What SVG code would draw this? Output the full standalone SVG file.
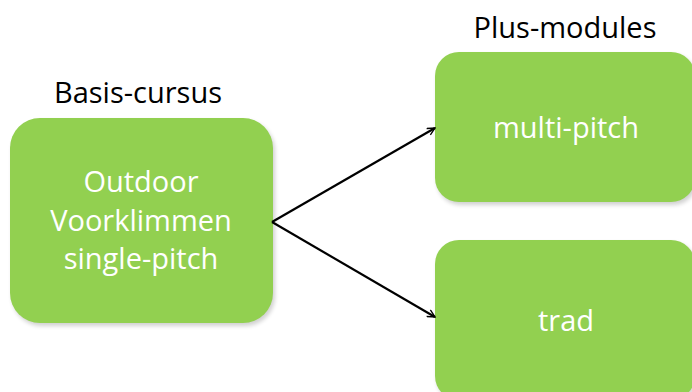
<svg xmlns="http://www.w3.org/2000/svg" width="692" height="392" viewBox="0 0 692 392">
<defs>
<style>
.box{fill:#92D050;}
.shadow{fill:#000;opacity:0.18;}
.t{font-family:"Open Sans","Liberation Sans",sans-serif;fill:#fff;font-size:29px;text-anchor:middle;}
.h{font-family:"Open Sans","Liberation Sans",sans-serif;fill:#000;font-size:29px;text-anchor:middle;}
.c{stroke:#000;stroke-width:2.2;fill:none;marker-end:url(#ah);}
</style>
<marker id="ah" viewBox="0 0 12 12" refX="11" refY="6" markerWidth="9" markerHeight="9" orient="auto" markerUnits="userSpaceOnUse">
<path d="M1,1 L11,6 L1,11" fill="none" stroke="#000" stroke-width="1.8"/>
</marker>
<filter id="sh" x="-10%" y="-10%" width="120%" height="120%"><feGaussianBlur stdDeviation="2"/></filter>
</defs>
<rect width="692" height="392" fill="#fff"/>
<text class="h" x="138" y="103">Basis-cursus</text>
<text class="h" x="565" y="38">Plus-modules</text>
<g id="basis">
<rect class="shadow" x="12" y="121" width="263" height="205" rx="30" filter="url(#sh)"/>
<rect class="box" x="10" y="118" width="263" height="205" rx="30"/>
<text class="t" x="141" y="192">Outdoor</text>
<text class="t" x="141" y="231">Voorklimmen</text>
<text class="t" x="141" y="269">single-pitch</text>
</g>
<g id="multi">
<rect class="shadow" x="437" y="55" width="260" height="150" rx="24" filter="url(#sh)"/>
<rect class="box" x="435" y="52" width="260" height="150" rx="24"/>
<text class="t" x="566" y="138">multi-pitch</text>
</g>
<g id="trad">
<rect class="shadow" x="437" y="243" width="260" height="160" rx="24" filter="url(#sh)"/>
<rect class="box" x="435" y="240" width="260" height="160" rx="24"/>
<text class="t" x="566" y="331">trad</text>
</g>
<g id="connectors">
<line class="c" x1="272" y1="222" x2="435" y2="128"/>
<line class="c" x1="272" y1="222" x2="435" y2="317"/>
</g>
</svg>
